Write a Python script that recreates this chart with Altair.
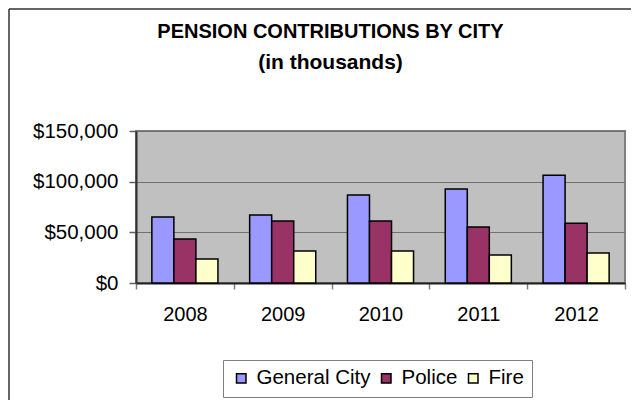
import altair as alt
import pandas as pd

years = ["2008", "2009", "2010", "2011", "2012"]
series = ["General City", "Police", "Fire"]
general_city = [65100, 67100, 86800, 92800, 106300]
police = [43400, 61200, 61200, 55300, 58900]
fire = [23700, 31600, 31600, 27600, 29600]
colors = ["#9999FF", "#993366", "#FFFFCC"]

rows = []
for i, y in enumerate(years):
    for s, vals in zip(series, [general_city, police, fire]):
        rows.append({"Year": y, "Series": s, "Value": vals[i]})
df = pd.DataFrame(rows)

FONT = "Liberation Sans"

bars = alt.Chart(df).mark_bar(stroke="black", strokeWidth=1.5).encode(
    x=alt.X("Year:N", sort=years,
            scale=alt.Scale(paddingInner=0, paddingOuter=0),
            axis=alt.Axis(title=None, labelAngle=0, tickBand="extent",
                          labelFontSize=20, labelColor="black", labelFont=FONT,
                          tickSize=6, tickColor="#808080", tickWidth=1.5,
                          labelPadding=15, domainColor="#202020", domainWidth=2,
                          grid=False)),
    xOffset=alt.XOffset("Series:N", sort=series,
                        scale=alt.Scale(paddingInner=0, paddingOuter=0.72)),
    y=alt.Y("Value:Q",
            scale=alt.Scale(domain=[0, 150000], nice=False),
            axis=alt.Axis(title=None, values=[0, 50000, 100000, 150000],
                          format="$,.0f", labelFontSize=20.5, labelColor="black",
                          labelFont=FONT, tickSize=7, tickColor="#606060",
                          tickWidth=1.5, labelPadding=11,
                          domainColor="#303030", domainWidth=2,
                          gridColor="#707070", gridWidth=1.2)),
    color=alt.Color("Series:N", sort=series,
                    scale=alt.Scale(domain=series, range=colors),
                    legend=alt.Legend(title=None, orient="none", direction="horizontal",
                                      legendX=87, legendY=229,
                                      symbolType="square", symbolSize=90,
                                      symbolStrokeColor="black", symbolStrokeWidth=1.5,
                                      labelFontSize=20.5, labelFont=FONT, labelColor="black",
                                      labelOffset=5, columnPadding=5,
                                      padding=8, strokeColor="#808080",
                                      fillColor="white")),
)

frame_df = pd.DataFrame({"k": [0]})
left_line = alt.Chart(frame_df).mark_rule(color="#333333", strokeWidth=1.5).encode(
    x=alt.value(-127), y=alt.value(-122), y2=alt.value(277))
top_line = alt.Chart(frame_df).mark_rule(color="#333333", strokeWidth=1.5).encode(
    x=alt.value(-127), x2=alt.value(503), y=alt.value(-122))

chart = alt.layer(bars, left_line, top_line).properties(
    width=489, height=152,
    autosize=alt.AutoSizeParams(type="none"),
    padding={"left": 128, "top": 123, "right": 6, "bottom": 117},
    title=alt.TitleParams(text="PENSION CONTRIBUTIONS BY CITY",
                          subtitle="(in thousands)",
                          fontSize=20, fontWeight="bold", font=FONT, color="black",
                          subtitleFontSize=21, subtitleFontWeight="bold",
                          subtitleFont=FONT, subtitleColor="black",
                          subtitlePadding=10, anchor="middle", dx=-50, offset=-64.75),
).configure_view(fill="#C0C0C0", stroke="#808080", strokeWidth=2)

chart.save("out.html", embed_options={"renderer": "svg", "actions": False})
